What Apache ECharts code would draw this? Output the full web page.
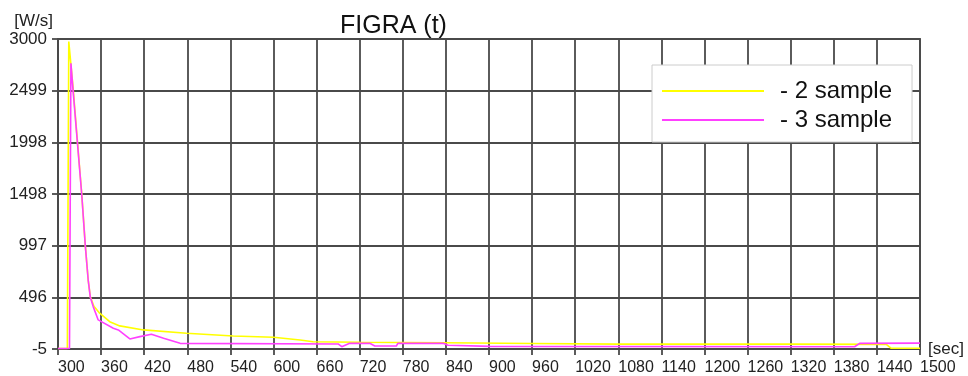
<!DOCTYPE html>
<html>
<head>
<meta charset="utf-8">
<script src="https://cdn.jsdelivr.net/npm/echarts@6/dist/echarts.min.js"></script>
<style>
  html, body { margin: 0; padding: 0; background: #fff; }
  #chart { width: 968px; height: 376px; }
</style>
</head>
<body>
<div id="chart"></div>
<script>
// [time sec, FIGRA W/s]
const sample2 = [
  [300, 0], [313, 0], [315, 2975], [321, 2530], [327, 2010], [333, 1505], [338, 1000],
  [342, 666], [345, 500], [350, 410], [358, 342], [372, 260], [386, 219], [419, 180],
  [479, 148], [544, 121], [600, 109], [637, 83], [655, 66], [720, 60], [780, 58],
  [840, 55], [960, 48], [1080, 42], [1200, 42], [1320, 42], [1453, 40], [1460, 2], [1500, 2]
];
const sample3 = [
  [300, 0], [316, 0], [318, 2764], [321, 2499], [327, 1998], [333, 1498], [338, 997],
  [342, 666], [345, 496], [349, 406], [356, 277], [377, 196], [384, 180], [400, 92],
  [414, 115], [430, 138], [447, 99], [470, 50], [690, 44], [695, 17], [706, 50],
  [734, 50], [741, 24], [771, 24], [773, 50], [836, 50], [843, 31], [901, 20],
  [1409, 17], [1416, 50], [1500, 52]
];
const seriesNames = ['- 2 sample', '- 3 sample'];
const yTickLabels = ['-5', '496', '997', '1498', '1998', '2499', '3000'];

const gridColor = '#4a4a4a';
const font = 'Liberation Sans, Arial, sans-serif';

const chart = echarts.init(document.getElementById('chart'));
chart.setOption({
  animation: false,
  backgroundColor: '#fff',
  title: {
    text: 'FIGRA (t)',
    left: 335,
    top: 9,
    textStyle: { fontFamily: font, fontSize: 25, fontWeight: 'normal', color: '#111' }
  },
  legend: {
    orient: 'vertical',
    left: 652,
    top: 65,
    padding: [14, 20, 10, 10],
    itemGap: 5,
    itemWidth: 102,
    itemHeight: 2,
    icon: 'rect',
    backgroundColor: '#fff',
    borderColor: '#ccc',
    borderWidth: 1,
    borderRadius: 0,
    data: seriesNames,
    textStyle: { fontFamily: font, fontSize: 24, color: '#111', padding: [0, 0, 0, 11] }
  },
  grid: {
    left: 58, right: 48, top: 39, bottom: 27,
    show: true, borderColor: gridColor, borderWidth: 1.8
  },
  xAxis: {
    type: 'value',
    min: 300,
    max: 1500,
    interval: 60,
    name: '[sec]',
    nameLocation: 'end',
    nameGap: 8,
    nameTextStyle: { fontFamily: font, fontSize: 17, color: '#222', padding: [0, 0, 8, 0] },
    axisLine: { onZero: false, lineStyle: { color: gridColor, width: 1.8 } },
    axisTick: { show: true, length: 6, lineStyle: { color: gridColor, width: 1.8 } },
    splitLine: { show: true, lineStyle: { color: gridColor, width: 1.8 } },
    axisLabel: {
      fontFamily: font, fontSize: 16, color: '#222', margin: 11, align: 'left',
      showMinLabel: true, showMaxLabel: true,
      formatter: (v) => String(v)
    }
  },
  yAxis: {
    type: 'value',
    min: -5,
    max: 3000,
    interval: 3005 / 6,
    name: '[W/s]',
    nameLocation: 'end',
    nameGap: 9,
    nameTextStyle: { fontFamily: font, fontSize: 17, color: '#222', align: 'right', padding: [0, 5, 0, 0] },
    axisLine: { onZero: false, lineStyle: { color: gridColor, width: 1.8 } },
    axisTick: { show: true, length: 6, lineStyle: { color: gridColor, width: 1.8 } },
    splitLine: { show: true, lineStyle: { color: gridColor, width: 1.8 } },
    axisLabel: {
      fontFamily: font, fontSize: 17, color: '#222', margin: 11,
      showMinLabel: true, showMaxLabel: true,
      formatter: (v, i) => yTickLabels[i] != null ? yTickLabels[i] : String(Math.round(v))
    }
  },
  series: [
    {
      name: seriesNames[0],
      type: 'line',
      data: sample2,
      showSymbol: false,
      color: '#ffff00',
      lineStyle: { color: '#ffff00', width: 1.6 }
    },
    {
      name: seriesNames[1],
      type: 'line',
      data: sample3,
      showSymbol: false,
      color: '#ff40ff',
      lineStyle: { color: '#ff40ff', width: 1.6 }
    }
  ]
});
</script>
</body>
</html>
